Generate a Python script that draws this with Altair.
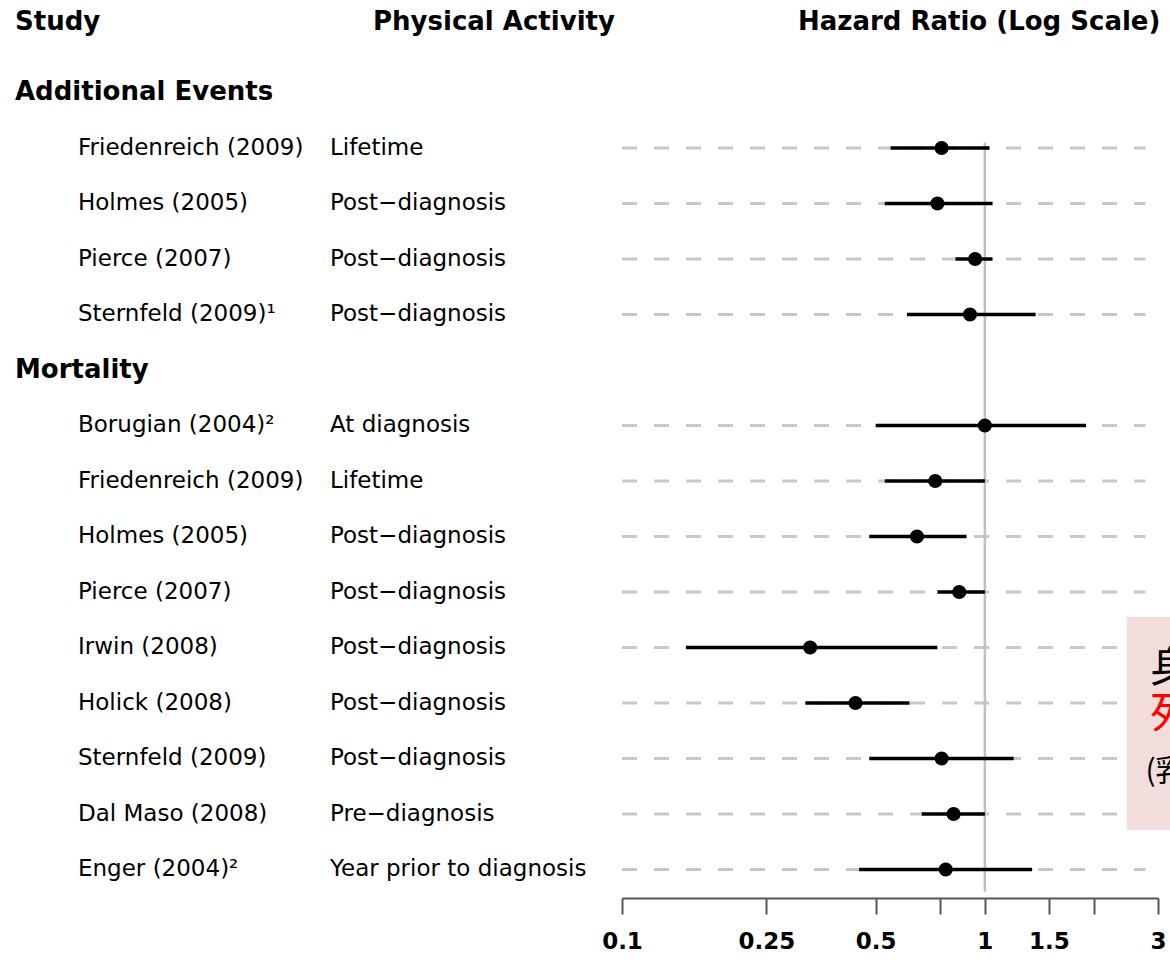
import altair as alt
import pandas as pd

# ---- data ----
studies = ["Friedenreich (2009)", "Holmes (2005)", "Pierce (2007)", "Sternfeld (2009)¹",
           "Borugian (2004)²", "Friedenreich (2009)", "Holmes (2005)", "Pierce (2007)",
           "Irwin (2008)", "Holick (2008)", "Sternfeld (2009)", "Dal Maso (2008)", "Enger (2004)²"]
activities = ["Lifetime", "Post−diagnosis", "Post−diagnosis", "Post−diagnosis",
              "At diagnosis", "Lifetime", "Post−diagnosis", "Post−diagnosis",
              "Post−diagnosis", "Post−diagnosis", "Post−diagnosis", "Pre−diagnosis",
              "Year prior to diagnosis"]
rows = [1, 2, 3, 4, 6, 7, 8, 9, 10, 11, 12, 13, 14]
hr = [0.76, 0.74, 0.94, 0.91, 1.00, 0.73, 0.65, 0.85, 0.33, 0.44, 0.76, 0.82, 0.78]
lo = [0.55, 0.53, 0.83, 0.61, 0.50, 0.53, 0.48, 0.74, 0.15, 0.32, 0.48, 0.67, 0.45]
hi = [1.03, 1.05, 1.05, 1.38, 1.90, 1.00, 0.89, 1.00, 0.74, 0.62, 1.20, 1.00, 1.35]

sections = ["Additional Events", "Mortality"]
section_rows = [0, 5]
col_headers = ["Study", "Physical Activity", "Hazard Ratio (Log Scale)"]
header_row = -1.27

tick_values = [0.1, 0.25, 0.5, 0.75, 1, 1.5, 2, 3]
tick_labels = ["0.1", "0.25", "0.5", "", "1", "1.5", "", "3"]
x_domain = [0.1, 3]
grid_extent = [0.1, 2.77]
ref_line = {"x": 1, "r0": 0.9, "r1": 14.4}

box = {"x0": 2.46, "x1": 3.5, "r0": 9.45, "r1": 13.29}
box_lines = ["身", "死", "(乳"]
box_line_rows = [10.38, 11.22, 12.25]
box_line_x = [2.85, 2.85, 2.77]
box_line_sizes = [42, 44, 30]
box_line_colors = ["black", "red", "black"]

# ---- tables ----
df = pd.DataFrame({"r": rows, "study": studies, "activity": activities,
                   "hr": hr, "lo": lo, "hi": hi,
                   "glo": grid_extent[0], "ghi": grid_extent[1]})
sec_df = pd.DataFrame({"r": section_rows, "label": sections})
ref_df = pd.DataFrame([ref_line])
box_df = pd.DataFrame([box])
box_txt = pd.DataFrame({"r": box_line_rows, "x": box_line_x, "t": box_lines,
                        "s": box_line_sizes, "c": box_line_colors})

FONT = "DejaVu Sans"
label_expr = ("{" + ",".join(f"'{v}':'{l}'" for v, l in zip(tick_values, tick_labels)) + "}")
xscale = alt.Scale(type="log", domain=x_domain, nice=False)
yscale = alt.Scale(domain=[-1.6667, 14.514], reverse=True, nice=False, zero=False)
Y = alt.Y("r:Q", scale=yscale, axis=None)

grid = alt.Chart(df).mark_rule(color="#c8c8c8", strokeWidth=3, strokeDash=[15, 17]).encode(
    x=alt.X("glo:Q", scale=xscale, title="",
            axis=alt.Axis(values=tick_values, grid=False,
                          labelExpr=f"{label_expr}[datum.value + ''] || ''",
                          domainColor="#555555", domainWidth=2,
                          tickColor="#555555", tickWidth=2, tickSize=16,
                          labelFont=FONT, labelFontSize=23, labelFontWeight="bold",
                          labelColor="black", labelPadding=16, labelFlush=False)),
    x2="ghi:Q", y=Y)

ref = alt.Chart(ref_df).mark_rule(color="#c0c0c0", strokeWidth=2.5).encode(
    x="x:Q", y=alt.Y("r0:Q", scale=yscale, axis=None), y2="r1:Q")

boxr = alt.Chart(box_df).mark_rect(color="#f2dcdc").encode(
    x="x0:Q", x2="x1:Q", y=alt.Y("r0:Q", scale=yscale, axis=None), y2="r1:Q")

boxt = alt.Chart(box_txt).mark_text(align="left", baseline="middle",
                                    font="Noto Sans CJK JP").encode(
    x="x:Q", y=Y, text="t:N", color=alt.Color("c:N", scale=None),
    size=alt.Size("s:Q", scale=None))

ci = alt.Chart(df).mark_rule(color="black", strokeWidth=3.5).encode(
    x="lo:Q", x2="hi:Q", y=Y)

pts = alt.Chart(df).mark_circle(color="black", opacity=1, size=200).encode(x="hr:Q", y=Y)

study_txt = alt.Chart(df).mark_text(align="left", baseline="middle", font=FONT,
                                    fontSize=23, color="black").encode(
    x=alt.value(-544), y=Y, text="study:N")
act_txt = alt.Chart(df).mark_text(align="left", baseline="middle", font=FONT,
                                  fontSize=23, color="black").encode(
    x=alt.value(-292), y=Y, text="activity:N")
sec_txt = alt.Chart(sec_df).mark_text(align="left", baseline="middle", font=FONT,
                                      fontSize=26, fontWeight="bold", color="black").encode(
    x=alt.value(-607), y=Y, text="label:N")

hdr_x = [-607, -249, 176]
hdr_layers = []
for h, hx in zip(col_headers, hdr_x):
    hdf = pd.DataFrame({"r": [header_row], "label": [h]})
    hdr_layers.append(
        alt.Chart(hdf).mark_text(align="left", baseline="middle", font=FONT,
                                 fontSize=26, fontWeight="bold", color="black").encode(
            x=alt.value(hx), y=Y, text="label:N"))

chart = alt.layer(grid, boxr, ref, ci, pts, boxt, study_txt, act_txt, sec_txt,
                  *hdr_layers).properties(
    width=536, height=898, autosize="none",
    padding={"left": 622, "top": 0, "right": 12, "bottom": 62},
    background="white",
).configure_view(strokeWidth=0)

chart.save("out.html", embed_options={"renderer": "svg", "actions": False})
